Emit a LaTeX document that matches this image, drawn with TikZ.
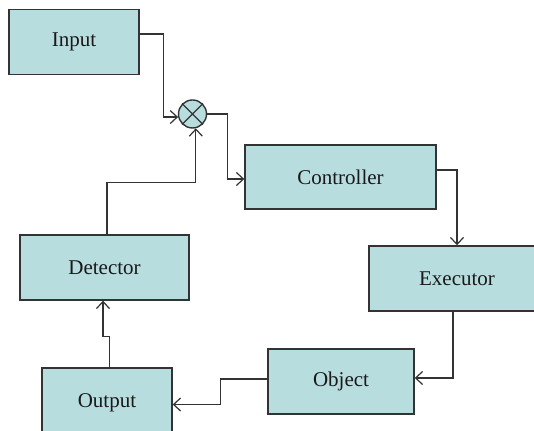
\documentclass[tikz,border=0pt]{standalone}
\usepackage{fontspec}
\setmainfont{Liberation Serif}
\usetikzlibrary{arrows.meta, positioning, calc}
\definecolor{boxfill}{HTML}{B8DDDF}
\definecolor{edge}{HTML}{333333}
\tikzset{
  blk/.style   = {draw=edge, line width=0.7pt, fill=boxfill, align=center,
                  font=\fontsize{10.5}{12}\selectfont, text=black!90,
                  minimum height=32.5pt, inner xsep=5pt},
  sumnode/.style = {circle, draw=edge, line width=0.7pt, fill=boxfill,
                  minimum size=14pt, inner sep=0pt},
  flow/.style  = {-{Straight Barb[length=3.5pt, width=6.5pt]}, draw=edge,
                  line width=0.6pt},
}

\begin{document}
\begin{tikzpicture}[x=0.5pt, y=0.5pt]
    \useasboundingbox (0,0) rectangle (534,431);

    \node[blk, minimum width=65pt] (inp) at (74,389) {Input};
    \node[sumnode] (sum) at (192.5,317) {};
    \draw[edge, line width=0.6pt] (sum.45) -- (sum.225) (sum.135) -- (sum.315);

    \node[blk, minimum width=95.5pt, minimum height=32pt] (ctl) at (340.5,254) {Controller};
    \node[blk, minimum width=88pt] (exe) at (457,152.5) {Executor};
    \node[blk, minimum width=73pt] (obj) at (341,49.5) {Object};
    \node[blk, minimum width=65pt, minimum height=35pt] (out) at (107,28) {Output};
    \node[blk, minimum width=84.5pt] (det) at (104.5,163.5) {Detector};

    % forward path
    \draw[flow] ([yshift=4pt]inp.east) -- ++(24,0) |- (sum.192);
    \draw[flow] (sum.east) -- ++(20.5,0) |- ([yshift=-1pt]ctl.west);
    \draw[flow] ([yshift=3.5pt]ctl.east) -| (exe.north);
    \draw[flow] ([xshift=-2pt]exe.south) |- ([yshift=1.75pt]obj.east);
    \draw[flow] ([yshift=1.25pt]obj.west) -- ++(-47,0) |- ([yshift=-0.75pt]out.east);

    % feedback path
    \draw[flow] ([xshift=1.25pt]out.north) -- ++(0,31) -| ([xshift=-0.75pt]det.south);
    \draw[flow] ([xshift=1.25pt]det.north) -- ++(0,52) -| (sum.283);
  \end{tikzpicture}
\end{document}
